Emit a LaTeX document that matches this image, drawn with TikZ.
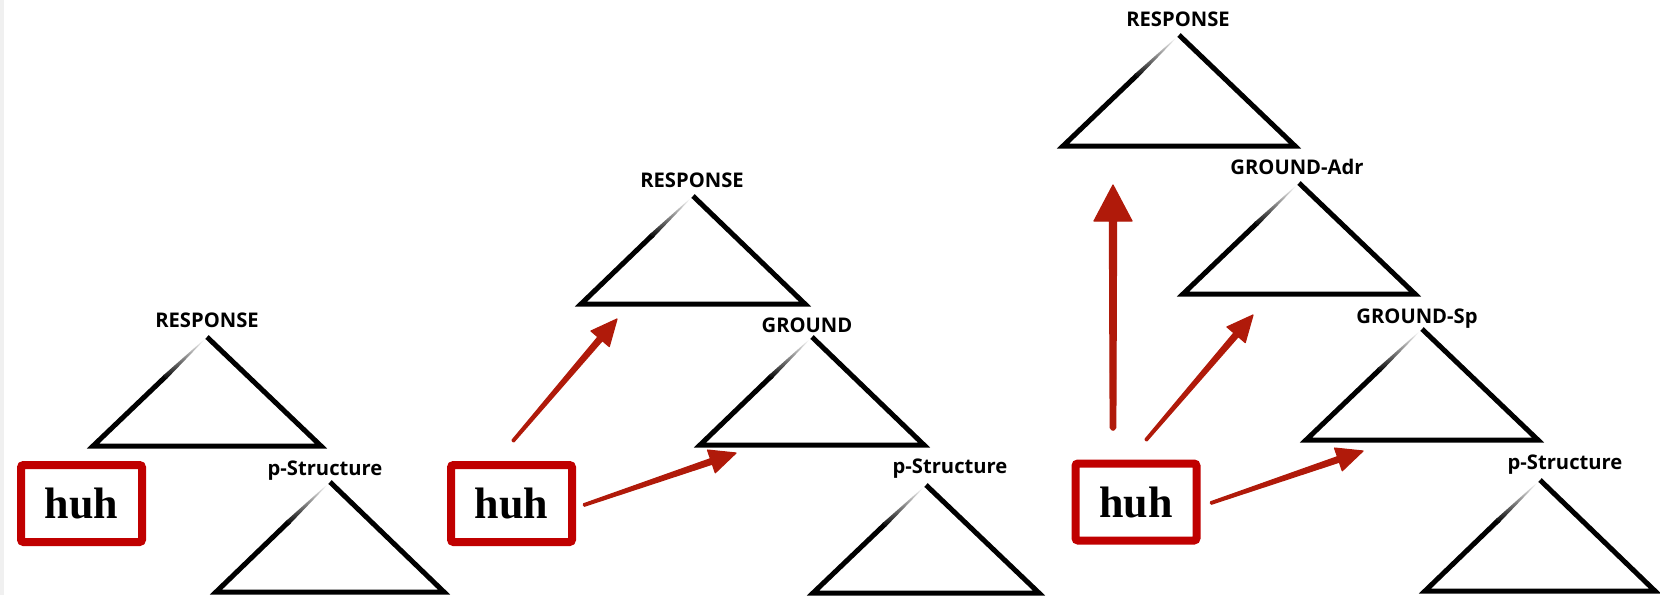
\documentclass[tikz,border=0pt]{standalone}
\usepackage{fontspec}
\setsansfont{Open Sans}
\newfontfamily\huhfont{Liberation Serif}
\usetikzlibrary{calc}
\definecolor{boxred}{RGB}{192,0,0}
\definecolor{arrowred}{RGB}{176,26,10}

\tikzset{
  lbl/.style={font=\sffamily\bfseries\fontsize{20.2}{21}\selectfont, anchor=base, inner sep=0pt},
  huhbox/.style={draw=boxred, line width=8pt, fill=white, rounded corners=2.5pt,
    minimum width=121pt, minimum height=77pt, inner sep=0pt,
    font=\huhfont\bfseries\fontsize{44}{44}\selectfont},
  triline/.style={line width=5pt, line join=miter, miter limit=10},
  brush/.style={fill=arrowred, draw=arrowred, line width=1.2pt, line join=round},
}

% open triangle of a tree: #1 name, #2 apex, #3 half base, #4 height
\newcommand\treetri[4]{%
  \coordinate (#1-a) at (#2);
  \coordinate (#1-l) at ($(#1-a)+(-#3,#4)$);
  \coordinate (#1-r) at ($(#1-a)+(#3,#4)$);
  \draw[triline] ($(#1-a)!0.36!(#1-l)$) -- (#1-l) -- (#1-r) -- (#1-a);
  % the left stroke fades in below the apex
  \shade[top color=white, bottom color=black]
    ($(#1-a)!0.02!(#1-l)!0.3pt!90:(#1-l)$) -- ($(#1-a)!0.37!(#1-l)!2.5pt!90:(#1-l)$)
    -- ($(#1-a)!0.37!(#1-l)!2.5pt!-90:(#1-l)$) -- ($(#1-a)!0.02!(#1-l)!0.3pt!-90:(#1-l)$) -- cycle;
}

% brush arrow: #1 tail, #2 tip, #3 tail half-width, #4 shaft half-width, #5 head length, #6 head half-width
\newcommand\brusharrow[6]{%
  \filldraw[brush]
    ($(#1)!#3!90:(#2)$) -- ($(#2)!#5!(#1)!#4!-90:(#1)$) -- ($(#2)!#5!(#1)!#6!-90:(#1)$)
    -- (#2) -- ($(#2)!#5!(#1)!#6!90:(#1)$) -- ($(#2)!#5!(#1)!#4!90:(#1)$)
    -- ($(#1)!#3!-90:(#2)$) -- cycle;
  \fill[arrowred] (#1) circle (#3);
}

\begin{document}
\begin{tikzpicture}[x=1pt, y=-1pt]
\useasboundingbox (0,0) rectangle (1660,595);
\fill[black!6] (0,0) rectangle (3.5,595);

% first tree
\treetri{pa}{207,337}{114}{109}
\node[lbl] (l-pa) at (207,327) {RESPONSE};
\treetri{pb}{330,482}{114}{110}
\node[lbl] (l-pb) at (325,475) {p-Structure};
\node[huhbox] (huh1) at (81.5,503.5) {huh};

% second tree
\treetri{qa}{693,196}{112}{108}
\node[lbl] (l-qa) at (692,187) {RESPONSE};
\treetri{qb}{812,337}{112}{108}
\node[lbl] (l-qb) at (807,332) {GROUND};
\treetri{qc}{926,485}{113}{108}
\node[lbl] (l-qc) at (950,473) {p-Structure};
\node[huhbox] (huh2) at (511.5,503.5) {huh};

\coordinate (q1t) at (513,441);
\coordinate (q1h) at (617,319);
\coordinate (q2t) at (584,505);
\coordinate (q2h) at (736,453);
\brusharrow{q1t}{q1h}{1.3pt}{2.9pt}{26pt}{12pt}
\brusharrow{q2t}{q2h}{1.3pt}{2.9pt}{26pt}{12pt}

% third tree
\treetri{ra}{1179,35}{116}{111}
\node[lbl] (l-ra) at (1178,26) {RESPONSE};
\treetri{rb}{1299,183}{116}{111}
\node[lbl] (l-rb) at (1297,174) {GROUND-Adr};
\treetri{rc}{1422,329}{116}{111}
\node[lbl] (l-rc) at (1417,323) {GROUND-Sp};
\treetri{rd}{1540,480}{115}{111}
\node[lbl] (l-rd) at (1565,469) {p-Structure};
\node[huhbox] (huh3) at (1136,502) {huh};

\coordinate (r1t) at (1113,428);
\coordinate (r1h) at (1113,185);
\coordinate (r2t) at (1146,440);
\coordinate (r2h) at (1253,315);
\coordinate (r3t) at (1211,503);
\coordinate (r3h) at (1363,451);
\brusharrow{r1t}{r1h}{2.8pt}{3.6pt}{36pt}{19pt}
\brusharrow{r2t}{r2h}{1.3pt}{2.9pt}{26pt}{12pt}
\brusharrow{r3t}{r3h}{1.3pt}{2.9pt}{26pt}{12pt}
\end{tikzpicture}
\end{document}
